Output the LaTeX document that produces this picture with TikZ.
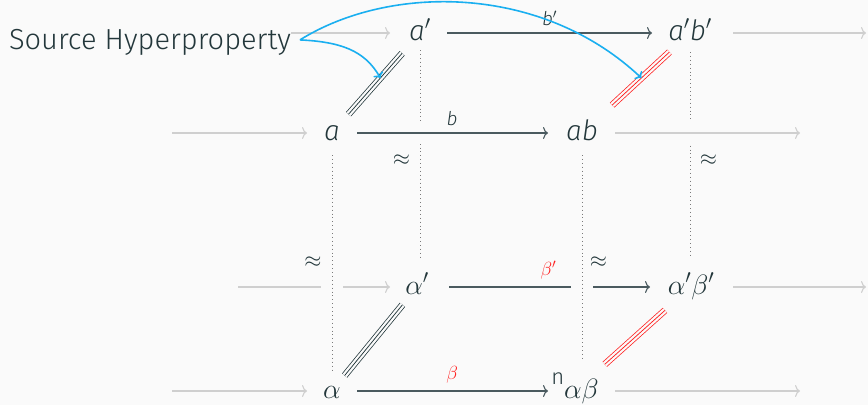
\RequirePackage{fix-cm}
\documentclass[tikz,border=0pt]{standalone}
\usepackage{fontspec}
\setmainfont{Fira Sans Light}
\usepackage{amsmath, amssymb}
\usepackage{xcolor}
\usetikzlibrary{calc, arrows.meta, positioning}

\definecolor{bgc}{HTML}{FAFAFA}
\definecolor{fgc}{HTML}{23373B}
\definecolor{linec}{HTML}{4A5A5F}
\definecolor{dimc}{HTML}{CFCFCF}
\definecolor{dotc}{HTML}{7A7A7A}
\definecolor{hypc}{HTML}{1AAFF0}
\definecolor{alertc}{HTML}{FF2020}

% ba vạch song song giữa hai đối tượng
\newcommand{\tripline}[5]{%
    \draw[draw=#1, line width=0.75pt, double=bgc, double distance=5.2pt,
        shorten <=#4, shorten >=#5] (#2.center) -- (#3.center);
    \draw[draw=#1, line width=0.75pt, shorten <=#4, shorten >=#5]
        (#2.center) -- (#3.center);}

\tikzset{
    obj/.style={inner sep=0pt, text height=14pt, text depth=0pt, text=fgc,
        font=\fontsize{28}{32}\selectfont},
    lbl/.style={inner sep=1pt, text=fgc, font=\fontsize{19}{22}\selectfont},
    eqv/.style={inner sep=1pt, text=fgc, font=\fontsize{22}{24}\selectfont},
    arr/.style={draw=linec, line width=1.1pt, -{To[length=5pt, width=12pt]}},
    dim/.style={draw=dimc, line width=1.1pt, -{To[length=5pt, width=12pt]}},
    dots/.style={draw=dotc, line width=0.9pt, dash pattern=on 0.9pt off 3pt},
    over/.style={preaction={draw=bgc, solid, line width=22pt, -}},
    hyp/.style={draw=hypc, line width=1.6pt, -{To[length=5pt, width=11pt]}},
}

\begin{document}
\begin{tikzpicture}[x=1pt, y=-1pt]
    % 0. Nền
    \fill[bgc] (0,0) rectangle (868,405);
    \useasboundingbox (0,0) rectangle (868,405);

    % 1. Các đối tượng
    \node[obj] (ap)    at (420,33)  {\textit{a}$'$};
    \node[obj] (apbp)  at (690,33)  {\textit{a}$'$\textit{b}$'$};
    \node[obj] (a)     at (332,133) {\textit{a}};
    \node[obj] (ab)    at (582,133) {\textit{ab}};
    \node[obj] (alp)   at (417,287) {$\alpha'$};
    \node[obj] (alpbp) at (691,287) {$\alpha'\beta'$};
    \node[obj] (al)    at (332,391) {$\alpha$};
    \node[obj] (nalb)  at (575,391) {\raisebox{14pt}{\fontsize{22}{24}\selectfont n}$\alpha\beta$};

    \coordinate (in1) at (238,33);
    \coordinate (in2) at (172,133);
    \coordinate (in3) at (238,287);
    \coordinate (in4) at (172,391);
    \coordinate (out1) at (866,33);
    \coordinate (out2) at (800,133);
    \coordinate (out3) at (866,287);
    \coordinate (out4) at (800,391);

    % 2. Mũi tên xám vào / ra
    \draw[dim, shorten >=30pt] (in1) -- (ap.center);
    \draw[dim, shorten >=25pt] (in2) -- (a.center);
    \draw[dim, shorten >=27pt] (in3) -- (alp.center);
    \draw[dim, shorten >=25pt] (in4) -- (al.center);
    \draw[dim, shorten <=43pt] (apbp.center) -- (out1);
    \draw[dim, shorten <=42pt] (alpbp.center) -- (out3);
    \draw[dim, shorten <=40pt] (nalb.center) -- (out4);

    % 3. Mũi tên chính
    \draw[arr, shorten <=27pt, shorten >=38pt] (ap.center) --
        node[lbl, above=6pt, pos=0.48] {\textit{b}$'$} (apbp.center);
    \draw[arr, shorten <=32pt, shorten >=41pt] (alp.center) --
        node[lbl, above=6pt, pos=0.48, text=alertc] {$\beta'$} (alpbp.center);
    \draw[arr, shorten <=25pt, shorten >=27pt] (al.center) --
        node[lbl, above=6pt, pos=0.494, text=alertc] {$\beta$} (nalb.center);

    % 4. Đường chấm dọc
    \draw[dots, over, shorten <=22pt, shorten >=18pt] (a.center) --
        node[eqv, left=9pt] {$\approx$} (al.center);
    \draw[dots, over, shorten <=22pt, shorten >=31pt] (ab.center) --
        node[eqv, right=6.5pt] {$\approx$} (ab.center |- nalb.center);
    \draw[dots, shorten <=17pt, shorten >=29pt] (ap.center) --
        node[eqv, left=8.5pt] {$\approx$} (ap.center |- alp.center);
    \draw[dots, shorten <=19pt, shorten >=30pt] (apbp.center) --
        node[eqv, right=8.5pt] {$\approx$} (apbp.center |- alpbp.center);

    % 5. Hàng thứ hai vượt lên trên
    \draw[arr, over, shorten <=25pt, shorten >=34pt] (a.center) --
        node[lbl, above=6pt, pos=0.48] {\textit{b}} (ab.center);
    \draw[dim, over, shorten <=33pt] (ab.center) -- (out2);

    % 6. Ba vạch
    \tripline{fgc}{a}{ap}{25pt}{27pt}
    \tripline{fgc}{al}{alp}{20pt}{23pt}
    \tripline{alertc}{ab}{apbp}{41pt}{28pt}
    \tripline{alertc}{nalb}{alpbp}{40pt}{35pt}

    % 7. Source Hyperproperty
    \node[fill=bgc, inner sep=0pt, text=fgc, font=\fontsize{29}{33}\selectfont,
        anchor=base east] (src) at (291,49) {Source Hyperproperty};
    \coordinate (hs) at ($(src.east)+(9,-2)$);
    \coordinate (t1) at ($(a.center)!0.55!(ap.center)$);
    \coordinate (t2) at ($(ab.center)!0.55!(apbp.center)$);
    \draw[hyp] (hs) .. controls +(40,2) and +(-16,-28) .. (t1);
    \draw[hyp] (hs) .. controls +(90,-56) and +(-100,-94) .. (t2);
\end{tikzpicture}
\end{document}
